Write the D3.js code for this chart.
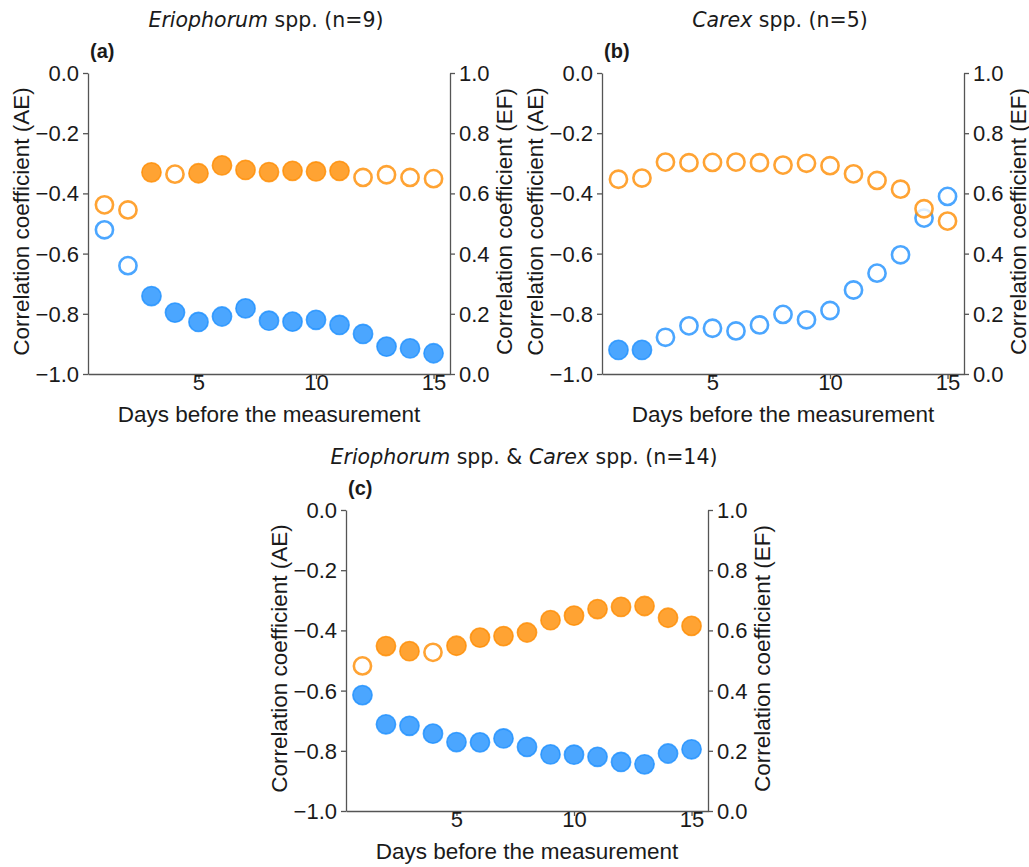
<!DOCTYPE html>
<html lang="en">
<head>
<meta charset="UTF-8"/>
<title>Correlation coefficients</title>
<script src="https://d3js.org/d3.v7.min.js"></script>
<style>
  body { margin: 0; background: #fff; }
  .tick text { font-family: "Liberation Sans", Arial, sans-serif; font-size: 22px; fill: #1a1a1a; }
  .domain, .tick line { stroke: #555; stroke-width: 1.3; }
  .label { font-family: "Liberation Sans", Arial, sans-serif; font-size: 22.5px; fill: #1a1a1a; }
  .title { font-family: "DejaVu Sans", sans-serif; font-size: 20.5px; fill: #1a1a1a; }
  .letter { font-family: "Liberation Sans", Arial, sans-serif; font-size: 20px; font-weight: bold; fill: #1a1a1a; }
</style>
</head>
<body>
<div id="chart"></div>
<script>
// days 1..15
var days = [1,2,3,4,5,6,7,8,9,10,11,12,13,14,15];

// (a) Eriophorum spp.
var aeA = [-0.521,-0.640,-0.741,-0.796,-0.827,-0.809,-0.782,-0.823,-0.826,-0.820,-0.837,-0.867,-0.909,-0.915,-0.931];
var aeAsig = [0,0,1,1,1,1,1,1,1,1,1,1,1,1,1];
var efA = [0.562,0.545,0.670,0.664,0.667,0.693,0.678,0.671,0.675,0.673,0.675,0.653,0.662,0.653,0.649];
var efAsig = [0,0,1,0,1,1,1,1,1,1,1,0,0,0,0];

// (b) Carex spp.
var aeB = [-0.920,-0.920,-0.878,-0.840,-0.848,-0.857,-0.837,-0.802,-0.820,-0.789,-0.721,-0.665,-0.604,-0.482,-0.410];
var aeBsig = [1,1,0,0,0,0,0,0,0,0,0,0,0,0,0];
var efB = [0.647,0.651,0.704,0.702,0.703,0.704,0.702,0.694,0.700,0.692,0.665,0.643,0.614,0.549,0.508];
var efBsig = [0,0,0,0,0,0,0,0,0,0,0,0,0,0,0];

// (c) both
var aeC = [-0.615,-0.712,-0.717,-0.743,-0.771,-0.772,-0.759,-0.787,-0.812,-0.813,-0.820,-0.837,-0.845,-0.809,-0.795];
var aeCsig = [1,1,1,1,1,1,1,1,1,1,1,1,1,1,1];
var efC = [0.482,0.548,0.531,0.527,0.549,0.576,0.581,0.593,0.634,0.649,0.671,0.678,0.681,0.642,0.615];
var efCsig = [0,1,1,0,1,1,1,1,1,1,1,1,1,1,1];

var xTicks = [5,10,15];
var aeTicks = [-1.0,-0.8,-0.6,-0.4,-0.2,0.0];
var efTicks = [0.0,0.2,0.4,0.6,0.8,1.0];

var blue = "#1e90ff", orange = "#ff8c00";
var w = 362, h = 301;

var svg = d3.select("#chart").append("svg")
    .attr("width", 1029).attr("height", 867);

function panel(left, top, letter, title, ae, aeSig, ef, efSig) {
    var g = svg.append("g").attr("transform", "translate(" + left + "," + top + ")");

    var xScale = d3.scaleLinear().domain([0.3, 15.7]).range([0, w]);
    var yAE = d3.scaleLinear().domain([-1, 0]).range([h, 0]);
    var yEF = d3.scaleLinear().domain([0, 1]).range([h, 0]);
    var fmt = d3.format(".1f");

    g.append("g").attr("transform", "translate(0," + h + ")")
        .call(d3.axisBottom(xScale).tickValues(xTicks).tickSize(5).tickPadding(3).tickSizeOuter(0));
    g.append("g")
        .call(d3.axisLeft(yAE).tickValues(aeTicks).tickFormat(fmt).tickSize(5).tickPadding(4).tickSizeOuter(0));
    g.append("g").attr("transform", "translate(" + w + ",0)")
        .call(d3.axisRight(yEF).tickValues(efTicks).tickFormat(fmt).tickSize(5).tickPadding(4).tickSizeOuter(0));
    g.selectAll(".tick text").attr("dy", null).attr("dominant-baseline", "central");
    g.selectAll(".domain").attr("stroke", "#555");

    function dots(vals, sig, scale, col) {
        g.append("g").selectAll("circle")
            .data(days.map(function(d, i) { return {d: d, v: vals[i], s: sig[i]}; }))
            .enter().append("circle")
            .attr("cx", function(d) { return xScale(d.d); })
            .attr("cy", function(d) { return scale(d.v); })
            .attr("r", function(d) { return d.s ? 9.6 : 8.6; })
            .attr("fill", function(d) { return d.s ? col : "#fff"; })
            .attr("fill-opacity", 0.8)
            .attr("stroke", col)
            .attr("stroke-opacity", 0.8)
            .attr("stroke-width", function(d) { return d.s ? 1.6 : 2.6; });
    }
    dots(ae, aeSig, yAE, blue);
    dots(ef, efSig, yEF, orange);

    g.append("text").attr("class", "label")
        .attr("text-anchor", "middle")
        .attr("x", w / 2).attr("y", h + 48)
        .text("Days before the measurement");
    g.append("text").attr("class", "label")
        .attr("text-anchor", "middle")
        .attr("transform", "translate(-67," + (h / 2 - 2) + ") rotate(-90)")
        .attr("dominant-baseline", "central")
        .text("Correlation coefficient (AE)");
    g.append("text").attr("class", "label")
        .attr("text-anchor", "middle")
        .attr("transform", "translate(" + (w + 54) + "," + (h / 2 - 2) + ") rotate(-90)")
        .attr("dominant-baseline", "central")
        .text("Correlation coefficient (EF)");

    g.append("text").attr("class", "letter")
        .attr("x", 2).attr("y", -15).text(letter);

    var t = g.append("text").attr("class", "title")
        .attr("text-anchor", "middle")
        .attr("x", w / 2 - 3).attr("y", -46);
    title.forEach(function(p) {
        t.append("tspan").attr("font-style", p[1] ? "italic" : "normal").text(p[0]);
    });
}

panel(88, 73, "(a)", [["Eriophorum", true], [" spp. (n=9)", false]], aeA, aeAsig, efA, efAsig);
panel(602, 73, "(b)", [["Carex", true], [" spp. (n=5)", false]], aeB, aeBsig, efB, efBsig);
panel(346, 510, "(c)", [["Eriophorum", true], [" spp. & ", false], ["Carex", true], [" spp. (n=14)", false]], aeC, aeCsig, efC, efCsig);
</script>
</body>
</html>
